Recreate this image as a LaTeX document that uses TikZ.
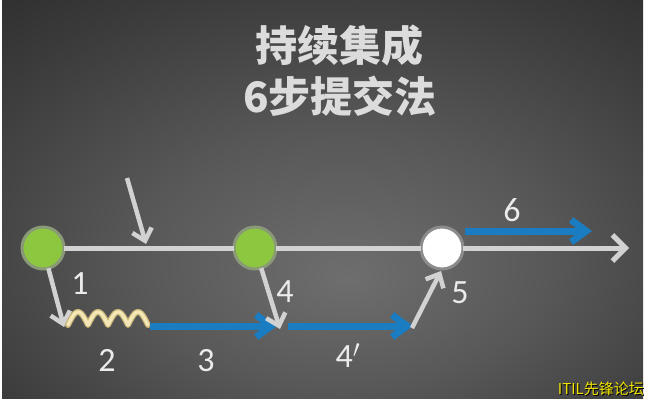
\documentclass[tikz,border=0pt]{standalone}
\usepackage{fontspec}
\setmainfont{Carlito}
\newfontfamily\cjk{Noto Sans CJK SC}
\usetikzlibrary{arrows.meta}
\definecolor{bgA}{HTML}{6E6E6E}
\definecolor{bgB}{HTML}{585858}
\definecolor{bgC}{HTML}{393939}
\definecolor{bgD}{HTML}{1E1E1E}
\definecolor{bgE}{HTML}{0E0E0E}
\definecolor{lineg}{HTML}{D2D2D2}
\definecolor{blueA}{HTML}{1B7DC1}
\definecolor{greenA}{HTML}{8DC63F}
\definecolor{greenB}{HTML}{8A9978}
\definecolor{ringW}{HTML}{8C8C8C}
\definecolor{springA}{HTML}{C9B378}
\definecolor{springB}{HTML}{F4E7B6}
\definecolor{titleg}{HTML}{DCDCDC}
\definecolor{wmark}{HTML}{F2E600}
\pgfdeclareradialshading{bgshade}{\pgfpoint{2bp}{-10bp}}{color(0bp)=(bgA); color(16bp)=(bgB); color(34bp)=(bgC); color(52bp)=(bgD); color(75bp)=(bgE)}
\begin{document}
\begin{tikzpicture}[x=1pt,y=-1pt,
  gnode/.style={circle,fill=greenA,draw=greenB,line width=3pt,minimum size=42pt,inner sep=0pt,outer sep=0pt},
  wnode/.style={circle,fill=white,draw=ringW,line width=3pt,minimum size=42pt,inner sep=0pt,outer sep=0pt},
  mainline/.style={draw=lineg,line width=5pt},
  garrow/.style={draw=lineg,line width=4.5pt,-{Straight Barb[length=11pt,width=20pt]}},
  barrow/.style={draw=blueA,line width=7pt,-{Straight Barb[length=15pt,width=22pt]}},
  lbl/.style={text=white!92!black,font=\fontsize{34}{36}\selectfont,inner sep=0pt},
  ttl/.style={text=titleg,font=\cjk\bfseries\fontsize{42}{46}\selectfont,inner sep=0pt}
]
\useasboundingbox (0,0) rectangle (647,402);
\fill[white] (0,0) rectangle (647,402);
\shade[shading=bgshade] (2,0) rectangle (643,398);

% title
\node[ttl] (t1) at (339,45) {持续集成};
\node[ttl] (t2) at (340,96) {6步提交法};

% commit nodes
\node[gnode] (A) at (43,248) {};
\node[gnode] (B) at (255,248) {};
\node[wnode] (C) at (442,248) {};
\coordinate (E) at (629,248);

% main line
\draw[mainline] (A) -- (B);
\draw[mainline] (B) -- (C);
\draw[mainline,-{Straight Barb[length=13pt,width=26pt]}] (C) -- (E);

% incoming commit
\coordinate (s0) at (127,178);
\coordinate (t0) at (146,244);
\draw[garrow] (s0) -- (t0);

% step 1
\coordinate (p1) at (64,327);
\draw[garrow] (A) -- (p1);

% step 2 spring
\draw[springA,line width=6pt,line cap=round,line join=round]
  plot[domain=0:80,samples=121,smooth] ({68+\x},{325-13*abs(sin(9*\x))});
\draw[springB,line width=3.5pt,line cap=round,line join=round]
  plot[domain=0:80,samples=121,smooth] ({68+\x},{325-13*abs(sin(9*\x))});

% step 3
\coordinate (b3s) at (150,326);
\coordinate (b3e) at (277,326);
\draw[barrow] (b3s) -- (b3e);

% step 4
\coordinate (p4) at (280,329);
\draw[garrow] (B) -- (p4);

% step 4'
\coordinate (b4s) at (288,326);
\coordinate (b4e) at (413,326);
\draw[barrow] (b4s) -- (b4e);

% step 5
\coordinate (p5) at (412,328);
\coordinate (t5) at (441,271);
\draw[garrow] (p5) -- (t5);

% step 6
\coordinate (b6s) at (465,231);
\coordinate (b6e) at (592,231);
\draw[barrow] (b6s) -- (b6e);

% labels
\node[lbl] (l1) at (80,284) {1};
\node[lbl] (l2) at (107,360) {2};
\node[lbl] (l3) at (206,361) {3};
\node[lbl] (l4) at (285,292) {4};
\node[lbl,anchor=base] (l4p) at (348,367) {4$'$};
\node[lbl] (l5) at (460,293) {5};
\node[lbl] (l6) at (512,210) {6};

% watermark
\node[anchor=east,inner sep=0pt,text=black,font=\cjk\fontsize{15}{16}\selectfont] (wm0) at (645,390) {ITIL先锋论坛};
\node[anchor=east,inner sep=0pt,text=wmark,font=\cjk\fontsize{15}{16}\selectfont] (wm) at (644,389) {ITIL先锋论坛};
\end{tikzpicture}
\end{document}
